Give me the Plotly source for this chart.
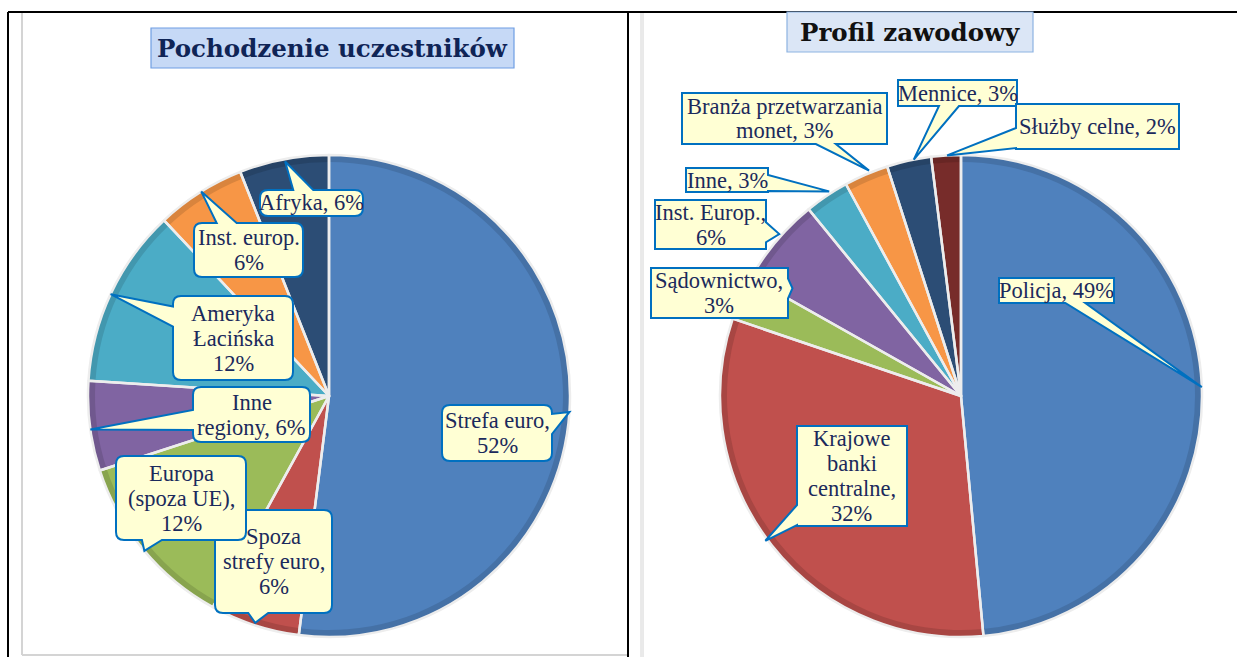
import math
import plotly.graph_objects as go

W, H = 1237, 657

# ---------------- data ----------------
left_title = "Pochodzenie uczestników"
left_labels = ["Strefa euro", "Spoza strefy euro", "Europa (spoza UE)", "Inne regiony",
               "Ameryka Łacińska", "Inst. europ.", "Afryka"]
left_values = [52, 6, 12, 6, 12, 6, 6]
left_texts = ["Strefa euro,<br>52%", "Spoza<br>strefy euro,<br>6%", "Europa<br>(spoza UE),<br>12%",
              "Inne<br>regiony, 6%", "Ameryka<br>Łacińska<br>12%", "Inst. europ.<br>6%", "Afryka, 6%"]
left_colors = ["#4F81BD", "#C0504D", "#9BBB59", "#8064A2", "#4BACC6", "#F79646", "#2C4D75"]

right_title = "Profil zawodowy"
right_labels = ["Policja", "Krajowe banki centralne", "Sądownictwo", "Inst. Europ.", "Inne",
                "Branża przetwarzania monet", "Mennice", "Służby celne"]
right_values = [49, 32, 3, 6, 3, 3, 3, 2]
right_texts = ["Policja, 49%", "Krajowe<br>banki<br>centralne,<br>32%", "Sądownictwo,<br>3%",
               "Inst. Europ.,<br>6%", "Inne, 3%", "Branża przetwarzania<br>monet, 3%",
               "Mennice, 3%", "Służby celne, 2%"]
right_colors = ["#4F81BD", "#C0504D", "#9BBB59", "#8064A2", "#4BACC6", "#F79646", "#2C4D75", "#772C2A"]

# ---------------- layout helpers (pixels) ----------------
LEFT_C, RIGHT_C, RAD, RIM = (329, 396), (961, 396), 241, 7

# callout boxes (x0, y0, x1, y1) and pointer (angle clockwise from top, radius fraction)
left_boxes = [(442, 405, 552, 461), (215, 510, 332, 613), (116, 456, 246, 540), (193, 387, 310, 442),
              (173, 296, 293, 380), (194, 223, 303, 277), (260, 190, 363, 216)]
left_ptr = [(93.8, 1.0), (198, 0.99), (230, 1.0), (262, 1.0), (295, 1.0), (328, 1.0), (349.4, 0.99)]
right_boxes = [(999, 278, 1114, 303), (797, 426, 907, 526), (651, 268, 788, 318), (655, 200, 766, 249),
               (686, 168, 768, 192), (682, 93, 887, 144), (898, 80, 1017, 106), (1016, 104, 1179, 149)]
right_ptr = [(87.9, 1.0), (233.5, 1.01), (302.6, 0.83), (311.7, 1.01), (327.2, 1.01), (337.8, 1.01),
             (348.7, 1.0), (356.7, 1.0)]


def P(x, y):
    return f"{x / W:.5f},{1 - y / H:.5f}"


def dom(c, rad):
    return dict(x=[(c[0] - rad) / W, (c[0] + rad) / W], y=[1 - (c[1] + rad) / H, 1 - (c[1] - rad) / H])


def darker(hx, f=0.88):
    r, g, b = int(hx[1:3], 16), int(hx[3:5], 16), int(hx[5:7], 16)
    return "#%02X%02X%02X" % (int(r * f), int(g * f), int(b * f))


def tip(c, ang, fr):
    a = math.radians(ang)
    return c[0] + RAD * fr * math.sin(a), c[1] - RAD * fr * math.cos(a)


def callout_path(box, t, r, base=20):
    x0, y0, x1, y1 = box
    tx, ty = t
    cx, cy = (x0 + x1) / 2, (y0 + y1) / 2
    w, h = x1 - x0, y1 - y0
    dx, dy = tx - cx, ty - cy
    if abs(dx) / (w / 2) > abs(dy) / (h / 2):
        side = "right" if dx > 0 else "left"
        ex = x1 if dx > 0 else x0
        ey = cy + dy * (ex - cx) / dx
        half = min(base / 2, (h - 2 * r) / 3)
        ey = min(max(ey, y0 + r + half + 1), y1 - r - half - 1)
        b1, b2 = (ex, ey - half), (ex, ey + half)
    else:
        side = "bottom" if dy > 0 else "top"
        ey = y1 if dy > 0 else y0
        ex = cx + dx * (ey - cy) / dy
        half = min(base / 2, (w - 2 * r) / 3)
        ex = min(max(ex, x0 + r + half + 1), x1 - r - half - 1)
        b1, b2 = (ex - half, ey), (ex + half, ey)
    seg = ["M " + P(x0 + r, y0)]
    if side == "top":
        seg += ["L " + P(*b1), "L " + P(tx, ty), "L " + P(*b2)]
    seg.append("L " + P(x1 - r, y0))
    if r:
        seg.append("Q " + P(x1, y0) + " " + P(x1, y0 + r))
    if side == "right":
        seg += ["L " + P(*b1), "L " + P(tx, ty), "L " + P(*b2)]
    seg.append("L " + P(x1, y1 - r))
    if r:
        seg.append("Q " + P(x1, y1) + " " + P(x1 - r, y1))
    if side == "bottom":
        seg += ["L " + P(*b2), "L " + P(tx, ty), "L " + P(*b1)]
    seg.append("L " + P(x0 + r, y1))
    if r:
        seg.append("Q " + P(x0, y1) + " " + P(x0, y1 - r))
    if side == "left":
        seg += ["L " + P(*b2), "L " + P(tx, ty), "L " + P(*b1)]
    seg.append("L " + P(x0, y0 + r))
    if r:
        seg.append("Q " + P(x0, y0) + " " + P(x0 + r, y0))
    seg.append("Z")
    return " ".join(seg)


fig = go.Figure()
for vals, labs, cols, c in [(left_values, left_labels, left_colors, LEFT_C),
                            (right_values, right_labels, right_colors, RIGHT_C)]:
    common = dict(values=vals, labels=labs, sort=False, direction="clockwise", rotation=0,
                  textinfo="none", showlegend=False, domain=dom(c, RAD))
    fig.add_trace(go.Pie(marker=dict(colors=cols, line=dict(width=0)), hoverinfo="skip", **common))
    # darker outer rim (bevel look)
    fig.add_trace(go.Pie(hole=(RAD - RIM) / RAD, hoverinfo="skip",
                         marker=dict(colors=[darker(x) for x in cols], line=dict(width=0)), **common))
    # light slice separators
    fig.add_trace(go.Pie(hoverinfo="label+percent",
                         marker=dict(colors=["rgba(0,0,0,0)"] * len(vals),
                                     line=dict(color="#EDEDED", width=2.5)), **common))

shapes, annotations = [], []
TXT = dict(family="Liberation Serif", size=22.5, color="#1B2A5C")
LS = 25

for boxes, ptrs, texts, c, r in [(left_boxes, left_ptr, left_texts, LEFT_C, 8),
                                 (right_boxes, right_ptr, right_texts, RIGHT_C, 0)]:
    for box, (ang, fr), txt in zip(boxes, ptrs, texts):
        t = tip(c, ang, fr)
        shapes.append(dict(type="path", path=callout_path(box, t, r), xref="paper", yref="paper",
                           fillcolor="#FFFFD4", line=dict(color="#0070C0", width=2), layer="above"))
        lines = txt.split("<br>")
        cy = (box[1] + box[3]) / 2
        for i, ln in enumerate(lines):
            ly = cy + (i - (len(lines) - 1) / 2) * LS
            annotations.append(dict(text=ln, x=(box[0] + box[2]) / 2 / W, y=1 - ly / H,
                                    xref="paper", yref="paper", xanchor="center", yanchor="middle",
                                    showarrow=False, font=TXT, align="center"))

# titles
for (x0, y0, x1, y1), txt, bg, bc, fc in [((151, 28, 514, 68), left_title, "#C6D9F6", "#6F9EE3", "#0F2456"),
                                           ((787, 12, 1033, 52), right_title, "#DBE6F6", "#8DB3E2", "#111111")]:
    shapes.append(dict(type="rect", xref="paper", yref="paper", x0=x0 / W, x1=x1 / W, y0=1 - y1 / H,
                       y1=1 - y0 / H, fillcolor=bg, line=dict(color=bc, width=1.2), layer="above"))
    annotations.append(dict(text=f"<b>{txt}</b>", x=(x0 + x1) / 2 / W, y=1 - (y0 + y1) / 2 / H,
                            xref="paper", yref="paper", xanchor="center", yanchor="middle", showarrow=False,
                            font=dict(family="DejaVu Serif", size=24.5, color=fc)))


# table frame
def line(x0, y0, x1, y1, color, w):
    shapes.append(dict(type="line", xref="paper", yref="paper", x0=x0 / W, x1=x1 / W, y0=1 - y0 / H,
                       y1=1 - y1 / H, line=dict(color=color, width=w), layer="below"))


line(22, 13, 22, 655, "#D4D4D4", 2)
line(22, 655, 627, 655, "#D4D4D4", 2)
line(641, 13, 641, 657, "#D4D4D4", 1)
line(643, 13, 643, 657, "#D4D4D4", 1)
line(8, 12, 1237, 12, "#000000", 2)
line(8, 12, 8, 657, "#000000", 2)
line(628, 12, 628, 657, "#000000", 2)

fig.update_layout(width=W, height=H, margin=dict(l=0, r=0, t=0, b=0), paper_bgcolor="white",
                  plot_bgcolor="white", shapes=shapes, annotations=annotations)
fig.write_html("out.html")
